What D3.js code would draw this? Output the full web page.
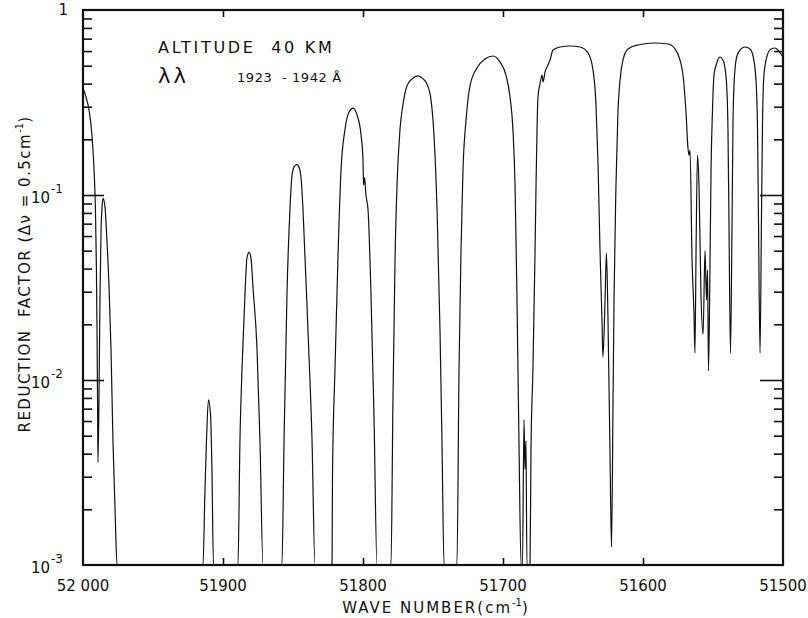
<!DOCTYPE html>
<html>
<head>
<meta charset="utf-8">
<script src="https://cdn.jsdelivr.net/npm/d3@7"></script>
<style>
  body { margin: 0; background: #fff; }
  svg { font-family: "DejaVu Sans", sans-serif; }
</style>
</head>
<body>
<div id="chart"></div>
<script>
// wave number (cm-1) and reduction factor
let waveNumber = [
  52000, 51997.9, 51995.7, 51993.6, 51992.1, 51991.1, 51990.4, 51990, 51989.6, 51989.3,
  51988.6, 51987.9, 51987.1, 51986.4, 51985.7, 51984.3, 51982.9, 51981.4, 51980, 51978.6, 51977.1, 51975.7,
  51914.3, 51912.9, 51911.8, 51910.4, 51908.9, 51907.9, 51906.8,
  51889.3, 51887.9, 51886.4, 51884.3, 51882.9, 51881.4, 51880, 51878.6, 51875.7, 51873.6, 51871.4,
  51857.9, 51856.4, 51854.3, 51852.1, 51850.7, 51849, 51847.1, 51845.5, 51844, 51842.9, 51839.3, 51836.4, 51834.3,
  51822.1, 51821.8, 51820, 51817.9, 51815.7, 51812.9, 51810, 51807.1, 51804.3, 51801.4, 51800, 51799.6, 51798.9, 51797.9, 51796.4, 51794.3, 51792.1, 51790,
  51780, 51778.6, 51777.1, 51775.7, 51773.6, 51771.4, 51768.6, 51765, 51760.7, 51757.1, 51754.3, 51751.4, 51749.3, 51747.1, 51745, 51743.6, 51742.1,
  51732.9, 51731.4, 51730, 51728.6, 51726.4, 51723.6, 51718.6, 51712.9, 51707.1, 51702.1, 51697.9, 51695, 51692.9, 51691.4, 51690, 51688.6, 51687.1,
  51686.1, 51685, 51684.3, 51683.6, 51682.9,
  51680.7, 51680, 51678.6, 51677.1, 51676.4, 51675.7, 51675, 51673.6, 51672.1, 51671.4, 51670, 51667.9, 51666.4, 51664.3, 51659.3, 51652.1, 51645, 51639.3, 51635.7, 51633.6, 51632.1, 51630.7, 51629.3, 51628.6,
  51627.1, 51626.1, 51625, 51623.6, 51622.5,
  51621.4, 51620.7, 51619.3, 51617.9, 51616.4, 51614.3, 51610.7, 51603.6, 51591.4, 51582.1, 51577.1, 51573.6, 51571.4, 51569.3, 51567.9, 51567.1, 51566.4, 51565, 51563.6, 51562.9,
  51562.1, 51561.1, 51560, 51558.6, 51557.1, 51555.7, 51554.6, 51553.9, 51553.2,
  51552.1, 51551.4, 51550.4, 51549.3, 51547.1, 51545, 51542.9, 51541.4, 51540, 51539.3, 51538.6, 51537.5,
  51536.4, 51535.7, 51534.6, 51532.9, 51530, 51527.1, 51523.6, 51521.4, 51519.3, 51518.2, 51517.5, 51516.4,
  51515.4, 51514.6, 51513.6, 51511.4, 51508.6, 51505.7, 51502.9, 51500
];
let reduction = [
  0.379, 0.339, 0.288, 0.211, 0.136, 0.083, 0.039, 0.0186, 0.0078, 0.0036,
  0.0078, 0.027, 0.065, 0.086, 0.096, 0.086, 0.057, 0.0318, 0.0147, 0.0047, 0.002, 0.001,
  0.001, 0.0025, 0.0047, 0.0078, 0.0065, 0.0033, 0.001,
  0.001, 0.0047, 0.0116, 0.0292, 0.0456, 0.049, 0.0456, 0.0318, 0.0147, 0.0047, 0.001,
  0.001, 0.0047, 0.0292, 0.086, 0.128, 0.143, 0.146, 0.14, 0.118, 0.085, 0.0184, 0.0047, 0.001,
  0.001, 0.003, 0.0116, 0.0456, 0.136, 0.225, 0.281, 0.295, 0.271, 0.211, 0.155, 0.113, 0.124, 0.1, 0.083, 0.0292, 0.0061, 0.001,
  0.001, 0.0078, 0.0456, 0.113, 0.225, 0.31, 0.388, 0.424, 0.44, 0.424, 0.398, 0.326, 0.211, 0.083, 0.0186, 0.0047, 0.001,
  0.001, 0.0116, 0.05, 0.136, 0.254, 0.388, 0.486, 0.543, 0.564, 0.523, 0.445, 0.339, 0.225, 0.113, 0.0271, 0.0047, 0.001,
  0.001, 0.0061, 0.0033, 0.0047, 0.001,
  0.001, 0.0042, 0.0116, 0.05, 0.113, 0.225, 0.339, 0.398, 0.445, 0.408, 0.462, 0.504, 0.537, 0.608, 0.631, 0.639, 0.631, 0.586, 0.474, 0.31, 0.145, 0.05, 0.0211, 0.0133,
  0.0271, 0.0486, 0.0211, 0.0042, 0.00125,
  0.0078, 0.0271, 0.113, 0.281, 0.418, 0.537, 0.616, 0.647, 0.663, 0.655, 0.616, 0.537, 0.445, 0.281, 0.18, 0.164, 0.175, 0.0456, 0.023, 0.014,
  0.05, 0.164, 0.113, 0.0292, 0.0177, 0.05, 0.0271, 0.0393, 0.0112,
  0.0456, 0.136, 0.281, 0.445, 0.523, 0.557, 0.537, 0.486, 0.36, 0.225, 0.072, 0.014,
  0.072, 0.254, 0.445, 0.564, 0.616, 0.631, 0.616, 0.564, 0.418, 0.225, 0.072, 0.014,
  0.072, 0.254, 0.445, 0.564, 0.616, 0.623, 0.6, 0.557
];
let xTicks = [52000, 51900, 51800, 51700, 51600, 51500];
let xTickLabels = ["52 000", "51900", "51800", "51700", "51600", "51500"];
let decades = [1, 0.1, 0.01, 0.001];
let decadeLabels = [["1", ""], ["10", "-1"], ["10", "-2"], ["10", "-3"]];

let W = 808, H = 618;
let margin = { top: 10, right: 25, bottom: 53, left: 83 },
    width = W - margin.left - margin.right,
    height = H - margin.top - margin.bottom;

let svg = d3.select("#chart").append("svg")
    .attr("width", W)
    .attr("height", H);

let g = svg.append("g")
    .attr("transform", "translate(" + margin.left + "," + margin.top + ")");

let x = d3.scaleLinear().domain([52000, 51500]).range([0, width]);
let y = d3.scaleLog().domain([0.001, 1]).range([height, 0]);

// minor log ticks 2..9 in each decade
let minorTicks = [];
[0.001, 0.01, 0.1].forEach(function (d) {
  for (let k = 2; k <= 9; k++) minorTicks.push(d * k);
});

g.append("clipPath").attr("id", "plot-clip")
  .append("rect").attr("width", width).attr("height", height);

let pts = waveNumber.map(function (w, i) { return [w, reduction[i]]; });
let line = d3.line()
    .x(function (d) { return x(d[0]); })
    .y(function (d) { return y(d[1]); })
    .curve(d3.curveMonotoneX);

g.append("path")
    .datum(pts)
    .attr("clip-path", "url(#plot-clip)")
    .attr("fill", "none")
    .attr("stroke", "#111")
    .attr("stroke-width", 1.2)
    .attr("stroke-linejoin", "round")
    .attr("d", line);

function styleAxis(sel) {
  sel.select(".domain").remove();
  sel.selectAll(".tick line").attr("stroke", "#111").attr("stroke-width", 1.6);
  sel.selectAll(".tick text").remove();
}

// left / right minor and major ticks (inward)
g.append("g").call(d3.axisLeft(y).tickValues(minorTicks).tickSize(-9)).call(styleAxis);
g.append("g").call(d3.axisLeft(y).tickValues([0.1, 0.01]).tickSize(-21)).call(styleAxis);
g.append("g").attr("transform", "translate(" + width + ",0)")
  .call(d3.axisRight(y).tickValues(minorTicks).tickSize(-9)).call(styleAxis);
g.append("g").attr("transform", "translate(" + width + ",0)")
  .call(d3.axisRight(y).tickValues([0.1, 0.01]).tickSize(-23)).call(styleAxis);

// top / bottom ticks
g.append("g").attr("transform", "translate(0," + height + ")")
  .call(d3.axisBottom(x).tickValues(xTicks.slice(1, 5)).tickSize(-7)).call(styleAxis);
g.append("g")
  .call(d3.axisTop(x).tickValues(xTicks.slice(1, 5)).tickSize(-7)).call(styleAxis);

// frame
g.append("rect")
    .attr("width", width).attr("height", height)
    .attr("fill", "none").attr("stroke", "#111").attr("stroke-width", 2.2);

// x tick labels
g.selectAll(".xlab").data(xTicks).enter().append("text")
    .attr("class", "xlab")
    .attr("x", function (d) { return x(d); })
    .attr("y", height + 26)
    .attr("text-anchor", "middle")
    .attr("font-size", 15)
    .attr("fill", "#111")
    .text(function (d, i) { return xTickLabels[i]; });

// y decade labels with superscripts
let ylab = g.selectAll(".ylab").data(decades).enter().append("text")
    .attr("class", "ylab")
    .attr("x", function (d) { return d === 1 ? -15 : -20; })
    .attr("y", function (d) { return d === 1 ? y(d) + 5 : y(d) + 8; })
    .attr("text-anchor", "end")
    .attr("font-size", 15)
    .attr("fill", "#111");
ylab.append("tspan").text(function (d, i) { return decadeLabels[i][0]; });
ylab.append("tspan")
    .attr("font-size", 12)
    .attr("dx", 1)
    .attr("dy", -10)
    .text(function (d, i) { return decadeLabels[i][1]; });

// axis titles
let xt = svg.append("text")
    .attr("x", 436).attr("y", 613)
    .attr("text-anchor", "middle")
    .attr("font-size", 15)
    .attr("letter-spacing", 2)
    .attr("fill", "#111")
    .attr("xml:space", "preserve");
xt.append("tspan").text("WAVE NUMBER(cm");
xt.append("tspan").attr("font-size", 10).attr("dy", -7).attr("letter-spacing", 0).text("-1");
xt.append("tspan").attr("dy", 7).text(")");

let yt = svg.append("text")
    .attr("transform", "translate(30,274) rotate(-90)")
    .attr("text-anchor", "middle")
    .attr("font-size", 15)
    .attr("letter-spacing", 1.5)
    .attr("fill", "#111")
    .attr("xml:space", "preserve");
yt.append("tspan").text("REDUCTION  FACTOR (Δν = 0.5cm");
yt.append("tspan").attr("font-size", 10).attr("dy", -7).attr("letter-spacing", 0).text("-1");
yt.append("tspan").attr("dy", 7).text(")");

// annotations
svg.append("text")
    .attr("x", 158).attr("y", 53)
    .attr("font-size", 16)
    .attr("letter-spacing", 2.7)
    .attr("fill", "#111")
    .attr("xml:space", "preserve")
    .text("ALTITUDE  40 KM");
svg.append("text")
    .attr("x", 158).attr("y", 83)
    .attr("font-size", 21)
    .attr("letter-spacing", 3)
    .attr("fill", "#111")
    .text("λλ");
svg.append("text")
    .attr("x", 237).attr("y", 82)
    .attr("font-size", 13)
    .attr("letter-spacing", 0.6)
    .attr("fill", "#111")
    .attr("xml:space", "preserve")
    .text("1923  - 1942 Å");
</script>
</body>
</html>
